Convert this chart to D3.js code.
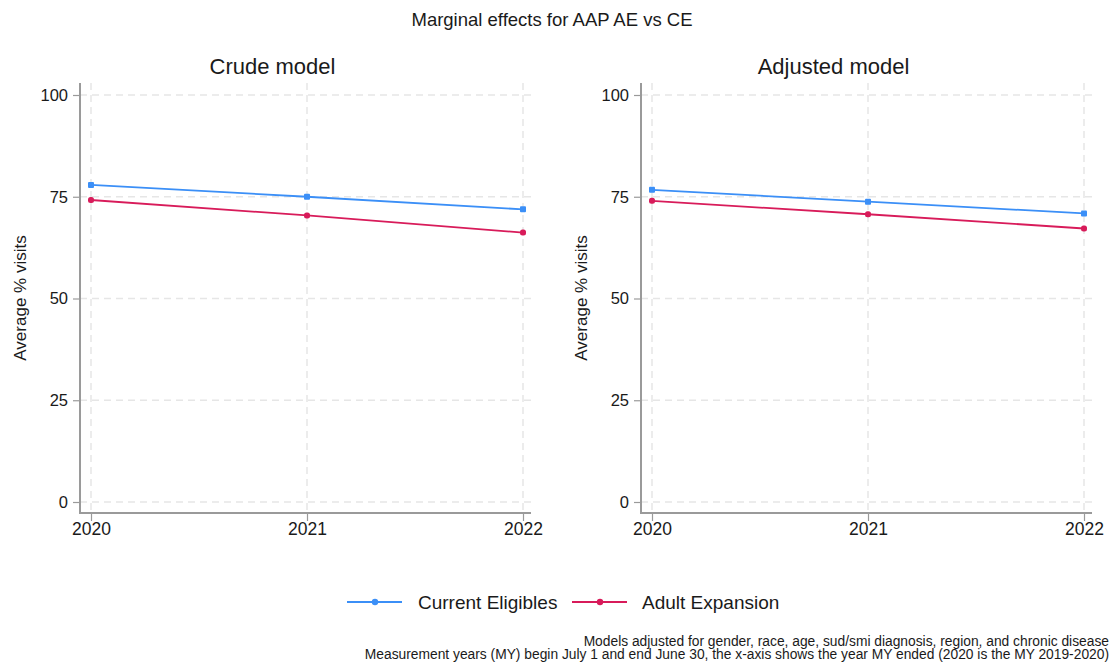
<!DOCTYPE html>
<html>
<head>
<meta charset="utf-8">
<script src="https://cdn.jsdelivr.net/npm/d3@7"></script>
<style>
  body { margin: 0; background: #fff; }
  svg { font-family: Arial, "Liberation Sans", sans-serif; }
</style>
</head>
<body>
<svg id="chart" width="1113" height="667"></svg>
<script>
const years = [2020, 2021, 2022];
const yTicks = [0, 25, 50, 75, 100];
const panelTitles = ["Crude model", "Adjusted model"];
const seriesNames = ["Current Eligibles", "Adult Expansion"];
const seriesColors = ["#3b8ff7", "#d81b5a"];
const crudeCE = [77.9, 75.0, 71.9];
const crudeAE = [74.2, 70.4, 66.2];
const adjustedCE = [76.7, 73.8, 70.9];
const adjustedAE = [74.0, 70.7, 67.2];

const panels = [
  { title: panelTitles[0], series: [crudeCE, crudeAE], left: 80 },
  { title: panelTitles[1], series: [adjustedCE, adjustedAE], left: 641 }
];

const svg = d3.select("#chart");
const axisColor = "#9a9a9a";
const textColor = "#1a1a1a";

svg.append("text")
  .attr("x", 552).attr("y", 26)
  .attr("text-anchor", "middle")
  .attr("font-size", 18.5).attr("fill", textColor)
  .text("Marginal effects for AAP AE vs CE");

const plotTop = 83, plotBottom = 513;
const y = d3.scaleLinear().domain([0, 100]).range([502, 95]);

panels.forEach(p => {
  const g = svg.append("g");
  const x = d3.scaleLinear().domain([2020, 2022]).range([p.left + 11, p.left + 443]);
  const right = p.left + 451;

  g.append("text")
    .attr("x", (p.left + right) / 2 - 33).attr("y", 74)
    .attr("text-anchor", "middle")
    .attr("font-size", 22).attr("fill", textColor)
    .text(p.title);

  // dashed grid
  g.selectAll(".hg").data(yTicks).join("line")
    .attr("x1", p.left).attr("x2", right)
    .attr("y1", d => y(d)).attr("y2", d => y(d))
    .attr("stroke", "#e6e6e6").attr("stroke-width", 1.5)
    .attr("stroke-dasharray", "7,5");
  g.selectAll(".vg").data(years).join("line")
    .attr("x1", d => x(d)).attr("x2", d => x(d))
    .attr("y1", plotTop).attr("y2", plotBottom)
    .attr("stroke", "#e6e6e6").attr("stroke-width", 1.5)
    .attr("stroke-dasharray", "7,5");

  // axes
  const yAxis = d3.axisLeft(y).tickValues(yTicks).tickSize(7).tickPadding(5);
  const ya = g.append("g").attr("transform", `translate(${p.left},0)`).call(yAxis);
  ya.select(".domain").remove();
  ya.selectAll("line").attr("stroke", axisColor).attr("stroke-width", 1.2);
  ya.selectAll("text").attr("font-size", 16.5).attr("fill", textColor)
    .attr("font-family", "Arial, 'Liberation Sans', sans-serif");

  const xAxis = d3.axisBottom(x).tickValues(years).tickFormat(d3.format("d")).tickSize(8).tickPadding(2);
  const xa = g.append("g").attr("transform", `translate(0,${plotBottom})`).call(xAxis);
  xa.select(".domain").remove();
  xa.selectAll("line").attr("stroke", axisColor).attr("stroke-width", 1.2);
  xa.selectAll("text").attr("font-size", 17.5).attr("fill", textColor)
    .attr("font-family", "Arial, 'Liberation Sans', sans-serif");

  g.append("line").attr("x1", p.left).attr("x2", p.left).attr("y1", plotTop).attr("y2", plotBottom + 1)
    .attr("stroke", axisColor).attr("stroke-width", 2);
  g.append("line").attr("x1", p.left - 1).attr("x2", right).attr("y1", plotBottom).attr("y2", plotBottom)
    .attr("stroke", axisColor).attr("stroke-width", 2);

  g.append("text")
    .attr("transform", `translate(${p.left - 54},${(plotTop + plotBottom) / 2}) rotate(-90)`)
    .attr("text-anchor", "middle")
    .attr("font-size", 17).attr("fill", textColor)
    .text("Average % visits");

  const line = d3.line().x((d, i) => x(years[i])).y(d => y(d));
  p.series.forEach((s, si) => {
    g.append("path").datum(s).attr("d", line)
      .attr("fill", "none").attr("stroke", seriesColors[si]).attr("stroke-width", 1.8);
    g.selectAll(".m" + si).data(s).join("rect")
      .attr("x", (d, i) => x(years[i]) - 3).attr("y", d => y(d) - 3)
      .attr("width", 6).attr("height", 6).attr("rx", si === 0 ? 1 : 2.5)
      .attr("fill", seriesColors[si]);
  });
});

// legend
const legendItems = [
  { x: 347, tx: 418 },
  { x: 572, tx: 642 }
];
legendItems.forEach((l, i) => {
  const g = svg.append("g");
  g.append("line").attr("x1", l.x).attr("x2", l.x + 55).attr("y1", 602).attr("y2", 602)
    .attr("stroke", seriesColors[i]).attr("stroke-width", 2);
  g.append("circle").attr("cx", l.x + 28).attr("cy", 602).attr("r", 3.2).attr("fill", seriesColors[i]);
  g.append("text").attr("x", l.tx).attr("y", 608.5)
    .attr("font-size", 19).attr("fill", textColor).text(seriesNames[i]);
});

// notes
const notes = [
  "Models adjusted for gender, race, age, sud/smi diagnosis, region, and chronic disease",
  "Measurement years (MY) begin July 1 and end June 30, the x-axis shows the year MY ended (2020 is the MY 2019-2020)"
];
notes.forEach((n, i) => {
  svg.append("text").attr("x", 1109).attr("y", 646 + i * 13)
    .attr("text-anchor", "end").attr("font-size", 13.8).attr("fill", textColor).text(n);
});
</script>
</body>
</html>
